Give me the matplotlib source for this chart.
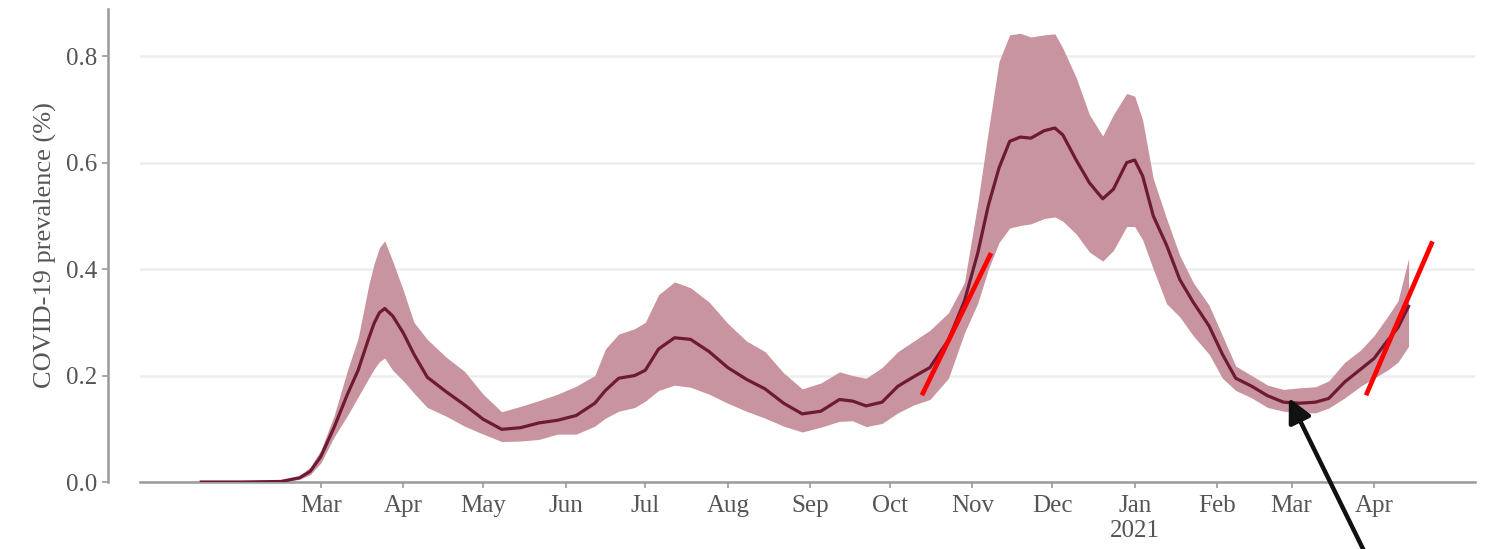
import matplotlib
matplotlib.use("Agg")
import matplotlib.pyplot as plt
import pandas as pd

# daily prevalence estimate with its credible band, sampled at irregular dates
dates = [
    "2020-01-16", "2020-01-31", "2020-02-15", "2020-02-22", "2020-02-26",
    "2020-03-01", "2020-03-06", "2020-03-11", "2020-03-15", "2020-03-19",
    "2020-03-21", "2020-03-23", "2020-03-25", "2020-03-28", "2020-04-01",
    "2020-04-05", "2020-04-10", "2020-04-17", "2020-04-24", "2020-05-01",
    "2020-05-08", "2020-05-15", "2020-05-22", "2020-05-29", "2020-06-05",
    "2020-06-12", "2020-06-16", "2020-06-21", "2020-06-27", "2020-07-01",
    "2020-07-06", "2020-07-12", "2020-07-18", "2020-07-25", "2020-08-01",
    "2020-08-08", "2020-08-15", "2020-08-22", "2020-08-29", "2020-09-05",
    "2020-09-12", "2020-09-17", "2020-09-22", "2020-09-28", "2020-10-04",
    "2020-10-10", "2020-10-16", "2020-10-23", "2020-10-29", "2020-11-03",
    "2020-11-07", "2020-11-11", "2020-11-15", "2020-11-19", "2020-11-23",
    "2020-11-28", "2020-12-02", "2020-12-05", "2020-12-10", "2020-12-15",
    "2020-12-20", "2020-12-24", "2020-12-29", "2021-01-01", "2021-01-04",
    "2021-01-08", "2021-01-13", "2021-01-18", "2021-01-23", "2021-01-29",
    "2021-02-03", "2021-02-08", "2021-02-14", "2021-02-20", "2021-02-26",
    "2021-03-04", "2021-03-10", "2021-03-15", "2021-03-21", "2021-03-27",
    "2021-04-01", "2021-04-06", "2021-04-10", "2021-04-14",
]
prevalence = [
    0.0, 0.0, 0.001, 0.008, 0.02,
    0.048, 0.103, 0.165, 0.21, 0.27,
    0.298, 0.318, 0.326, 0.312, 0.28,
    0.24, 0.197, 0.17, 0.145, 0.118,
    0.099, 0.102, 0.111, 0.116, 0.125,
    0.148, 0.172, 0.195, 0.2, 0.21,
    0.25, 0.271, 0.268, 0.245, 0.215,
    0.193, 0.175, 0.148, 0.128, 0.133,
    0.155, 0.152, 0.143, 0.15, 0.18,
    0.198, 0.215, 0.267, 0.34, 0.43,
    0.52, 0.59, 0.64, 0.648, 0.646,
    0.66, 0.665, 0.652, 0.605, 0.562,
    0.532, 0.55, 0.6, 0.605, 0.575,
    0.5, 0.445, 0.38, 0.338, 0.293,
    0.24, 0.195, 0.18, 0.162, 0.15,
    0.148, 0.15, 0.157, 0.188, 0.212,
    0.232, 0.265, 0.29, 0.33,
]
lower = [
    0.0, 0.0, 0.0, 0.005, 0.014,
    0.036, 0.085, 0.125, 0.16, 0.195,
    0.212, 0.226, 0.233, 0.21, 0.19,
    0.167, 0.14, 0.124, 0.105, 0.09,
    0.076, 0.077, 0.08, 0.09, 0.09,
    0.105, 0.12, 0.133, 0.14, 0.152,
    0.172, 0.182, 0.178, 0.165, 0.148,
    0.133, 0.12, 0.105, 0.094, 0.103,
    0.114, 0.115, 0.104, 0.11, 0.13,
    0.145, 0.155, 0.195, 0.28, 0.336,
    0.4, 0.45, 0.477, 0.482, 0.485,
    0.495, 0.498, 0.49, 0.466, 0.432,
    0.415, 0.435, 0.48, 0.48, 0.455,
    0.4, 0.335, 0.31, 0.275, 0.24,
    0.195, 0.172, 0.158, 0.14, 0.133,
    0.13, 0.13, 0.139, 0.158, 0.18,
    0.195, 0.21, 0.225, 0.255,
]
upper = [
    0.0, 0.0, 0.002, 0.012, 0.028,
    0.06, 0.125, 0.21, 0.27, 0.37,
    0.41, 0.44, 0.453, 0.415, 0.36,
    0.3, 0.268, 0.235, 0.208, 0.165,
    0.132, 0.142, 0.153, 0.165, 0.18,
    0.2, 0.25, 0.278, 0.288, 0.3,
    0.352, 0.376, 0.365, 0.338, 0.298,
    0.265, 0.245, 0.205, 0.175, 0.186,
    0.207, 0.2, 0.195, 0.215, 0.245,
    0.265, 0.285, 0.318, 0.375, 0.524,
    0.66, 0.79, 0.84, 0.843, 0.836,
    0.84, 0.842, 0.815, 0.76, 0.69,
    0.65, 0.69, 0.73, 0.725, 0.68,
    0.57, 0.495, 0.425, 0.375, 0.332,
    0.275, 0.218, 0.2, 0.182, 0.174,
    0.177, 0.179, 0.19, 0.225, 0.248,
    0.275, 0.31, 0.34, 0.42,
]

month_ticks = [
    "2020-03-01", "2020-04-01", "2020-05-01", "2020-06-01", "2020-07-01",
    "2020-08-01", "2020-09-01", "2020-10-01", "2020-11-01", "2020-12-01",
    "2021-01-01", "2021-02-01", "2021-03-01", "2021-04-01",
]
month_labels = ["Mar", "Apr", "May", "Jun", "Jul", "Aug", "Sep", "Oct",
                "Nov", "Dec", "Jan\n2021", "Feb", "Mar", "Apr"]
y_ticks = [0.0, 0.2, 0.4, 0.6, 0.8]

# hand-drawn trend strokes and the arrow pointing at the spring minimum
trend_a = (["2020-10-13", "2020-11-08"], [0.163, 0.43])
trend_b = (["2021-03-29", "2021-04-23"], [0.163, 0.452])
arrow_tip = ("2021-02-28", 0.158)

band_color = "#c8949f"
line_color = "#6e1a32"
axis_gray = "#9a9a9a"
text_gray = "#555555"

plt.rcParams["font.family"] = ["Liberation Serif", "DejaVu Serif"]

fig = plt.figure(figsize=(14.85, 5.49), dpi=100)
ax = fig.add_axes([0.0943, 0.122, 0.899, 0.862])

x = pd.to_datetime(dates)
ax.fill_between(x, lower, upper, color=band_color, linewidth=0, zorder=2)
ax.plot(x, prevalence, color=line_color, linewidth=2.3,
        solid_joinstyle="round", zorder=3)

for seg in (trend_a, trend_b):
    ax.plot(pd.to_datetime(seg[0]), seg[1], color="#ff0000",
            linewidth=3.4, solid_capstyle="butt", zorder=4)

ax.annotate("", xy=(pd.Timestamp(arrow_tip[0]), arrow_tip[1]),
            xytext=(1366, -6), textcoords="figure pixels",
            arrowprops=dict(arrowstyle="-|>", color="#111111", lw=3.2,
                            mutation_scale=36, shrinkA=0, shrinkB=0),
            annotation_clip=False, zorder=5)

ax.set_xlim(pd.Timestamp("2019-12-24"), pd.Timestamp("2021-05-09"))
ax.set_ylim(0, 0.889)

ax.set_xticks(pd.to_datetime(month_ticks))
ax.set_xticklabels(month_labels)
ax.set_yticks(y_ticks)
ax.set_yticklabels([f"{v:.1f}" for v in y_ticks])

ax.grid(axis="y", color="#ededed", linewidth=1.8, zorder=0)
ax.grid(axis="x", visible=False)
# no gridline on the baseline
ax.get_ygridlines()[0].set_visible(False)

for side in ("top", "right"):
    ax.spines[side].set_visible(False)
ax.spines["left"].set_position(("outward", 23))
ax.spines["left"].set_bounds(0, 0.889)
for side in ("left", "bottom"):
    ax.spines[side].set_color(axis_gray)
    ax.spines[side].set_linewidth(1.8)

ax.tick_params(axis="both", colors=axis_gray, labelcolor=text_gray,
               labelsize=18, width=1.2, length=4)
ax.tick_params(axis="x", pad=5)
ax.tick_params(axis="y", pad=4)
ax.set_ylabel("COVID-19 prevalence (%)", fontsize=19, color=text_gray,
              labelpad=6)

fig.savefig("out.png", dpi=100)
